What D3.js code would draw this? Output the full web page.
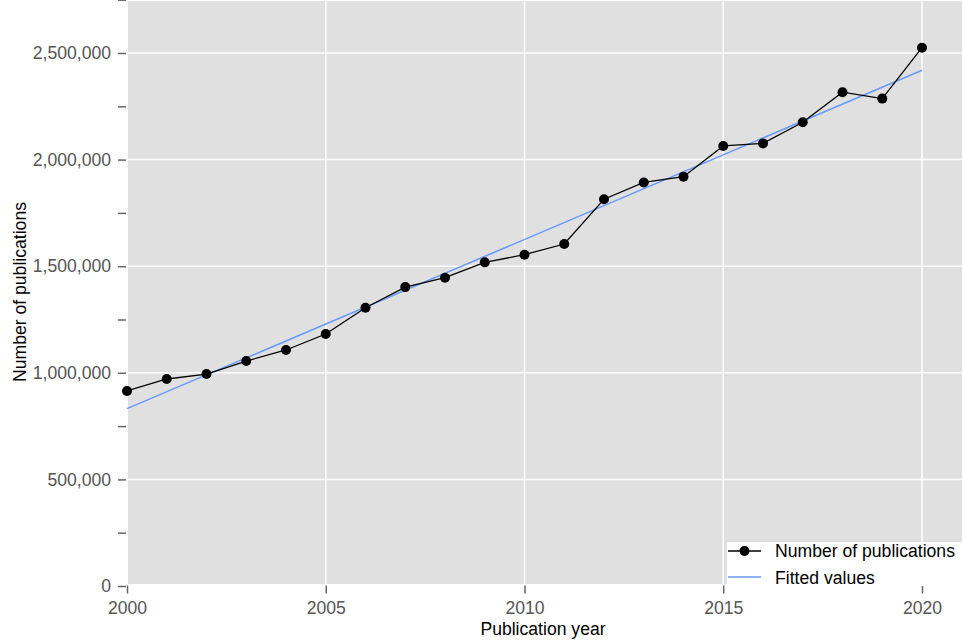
<!DOCTYPE html>
<html>
<head>
<meta charset="utf-8">
<script src="https://cdn.jsdelivr.net/npm/d3@7"></script>
<style>
  body { margin: 0; background: #fff; }
  svg { display: block; font-family: "Liberation Sans", Arial, sans-serif; }
</style>
</head>
<body>
<svg id="chart" width="963" height="642"></svg>
<script>
const years = [2000,2001,2002,2003,2004,2005,2006,2007,2008,2009,2010,2011,2012,2013,2014,2015,2016,2017,2018,2019,2020];
const publications = [915000,971000,994000,1055000,1107000,1182000,1305000,1402000,1446000,1518000,1554000,1604000,1814000,1893000,1920000,2064000,2076000,2175000,2316000,2286000,2525000];
const fittedYears = [2000, 2020];
const fittedValues = [832000, 2419000];
const xTicks = [2000, 2005, 2010, 2015, 2020];
const yMajorTicks = [0, 500000, 1000000, 1500000, 2000000, 2500000];
const yMinorTicks = [250000, 750000, 1250000, 1750000, 2250000, 2750000];
const seriesNames = ["Number of publications", "Fitted values"];

const FS = 17.6;
const svg = d3.select("#chart");
const x = d3.scaleLinear().domain([2000, 2020]).range([127, 922]);
const y = d3.scaleLinear().domain([0, 2750000]).range([586, -0.3]);

// plot region
svg.append("rect").attr("x", 128).attr("y", 1).attr("width", 834).attr("height", 583).attr("fill", "#e0e0e0");

// gridlines
svg.append("g").selectAll("line").data(yMajorTicks.filter(d => d > 0)).join("line")
  .attr("x1", 128).attr("x2", 962).attr("y1", d => y(d)).attr("y2", d => y(d))
  .attr("stroke", "#fff").attr("stroke-width", 1.5);
svg.append("g").selectAll("line").data(xTicks.filter(d => d > 2000)).join("line")
  .attr("y1", 1).attr("y2", 584).attr("x1", d => x(d)).attr("x2", d => x(d))
  .attr("stroke", "#fff").attr("stroke-width", 1.5);

// y axis
const yAxis = d3.axisLeft(y).tickValues(yMajorTicks).tickSize(8).tickPadding(7).tickFormat(d3.format(","));
const gy = svg.append("g").attr("transform", "translate(126,0)").call(yAxis);
gy.select(".domain").remove();
gy.selectAll(".tick line").attr("stroke", "#666").attr("stroke-width", 1.5);
gy.selectAll(".tick text").attr("fill", "#555").attr("font-size", FS);
const gyMinor = svg.append("g").attr("transform", "translate(126,0)")
  .call(d3.axisLeft(y).tickValues(yMinorTicks).tickSize(8).tickFormat(""));
gyMinor.select(".domain").remove();
gyMinor.selectAll(".tick line").attr("stroke", "#666").attr("stroke-width", 1.5);

// x axis
const xAxis = d3.axisBottom(x).tickValues(xTicks).tickSize(8).tickPadding(8).tickFormat(d3.format("d"));
const gx = svg.append("g").attr("transform", "translate(0,585.5)").call(xAxis);
gx.select(".domain").remove();
gx.selectAll(".tick line").attr("stroke", "#666").attr("stroke-width", 1.5);
gx.selectAll(".tick text").attr("fill", "#555").attr("font-size", FS);

// axis titles
svg.append("text").attr("x", 543).attr("y", 635).attr("text-anchor", "middle")
  .attr("font-size", FS).attr("fill", "#000").text("Publication year");
svg.append("text").attr("transform", "translate(26,292) rotate(-90)").attr("text-anchor", "middle")
  .attr("font-size", FS).attr("fill", "#000").text("Number of publications");

// fitted line
const fitData = fittedYears.map((d, i) => [d, fittedValues[i]]);
svg.append("path").datum(fitData)
  .attr("d", d3.line().x(d => x(d[0])).y(d => y(d[1])))
  .attr("fill", "none").attr("stroke", "#6699ff").attr("stroke-width", 1.5);

// data line
const pubData = years.map((d, i) => [d, publications[i]]);
svg.append("path").datum(pubData)
  .attr("d", d3.line().x(d => x(d[0])).y(d => y(d[1])))
  .attr("fill", "none").attr("stroke", "#000").attr("stroke-width", 1.3);
svg.append("g").selectAll("circle").data(pubData).join("circle")
  .attr("cx", d => x(d[0])).attr("cy", d => y(d[1])).attr("r", 5).attr("fill", "#000");

// legend
const lg = svg.append("g");
lg.append("rect").attr("x", 727).attr("y", 542).attr("width", 236).attr("height", 44).attr("fill", "#fff");
lg.append("line").attr("x1", 728).attr("x2", 761).attr("y1", 551).attr("y2", 551).attr("stroke", "#000").attr("stroke-width", 1.3);
lg.append("circle").attr("cx", 744.5).attr("cy", 551).attr("r", 5).attr("fill", "#000");
lg.append("line").attr("x1", 728).attr("x2", 761).attr("y1", 577).attr("y2", 577).attr("stroke", "#6699ff").attr("stroke-width", 1.5);
lg.selectAll("text").data(seriesNames).join("text")
  .attr("x", 775).attr("y", (d, i) => 557 + i * 26.5).attr("font-size", FS).attr("fill", "#000").text(d => d);
</script>
</body>
</html>
